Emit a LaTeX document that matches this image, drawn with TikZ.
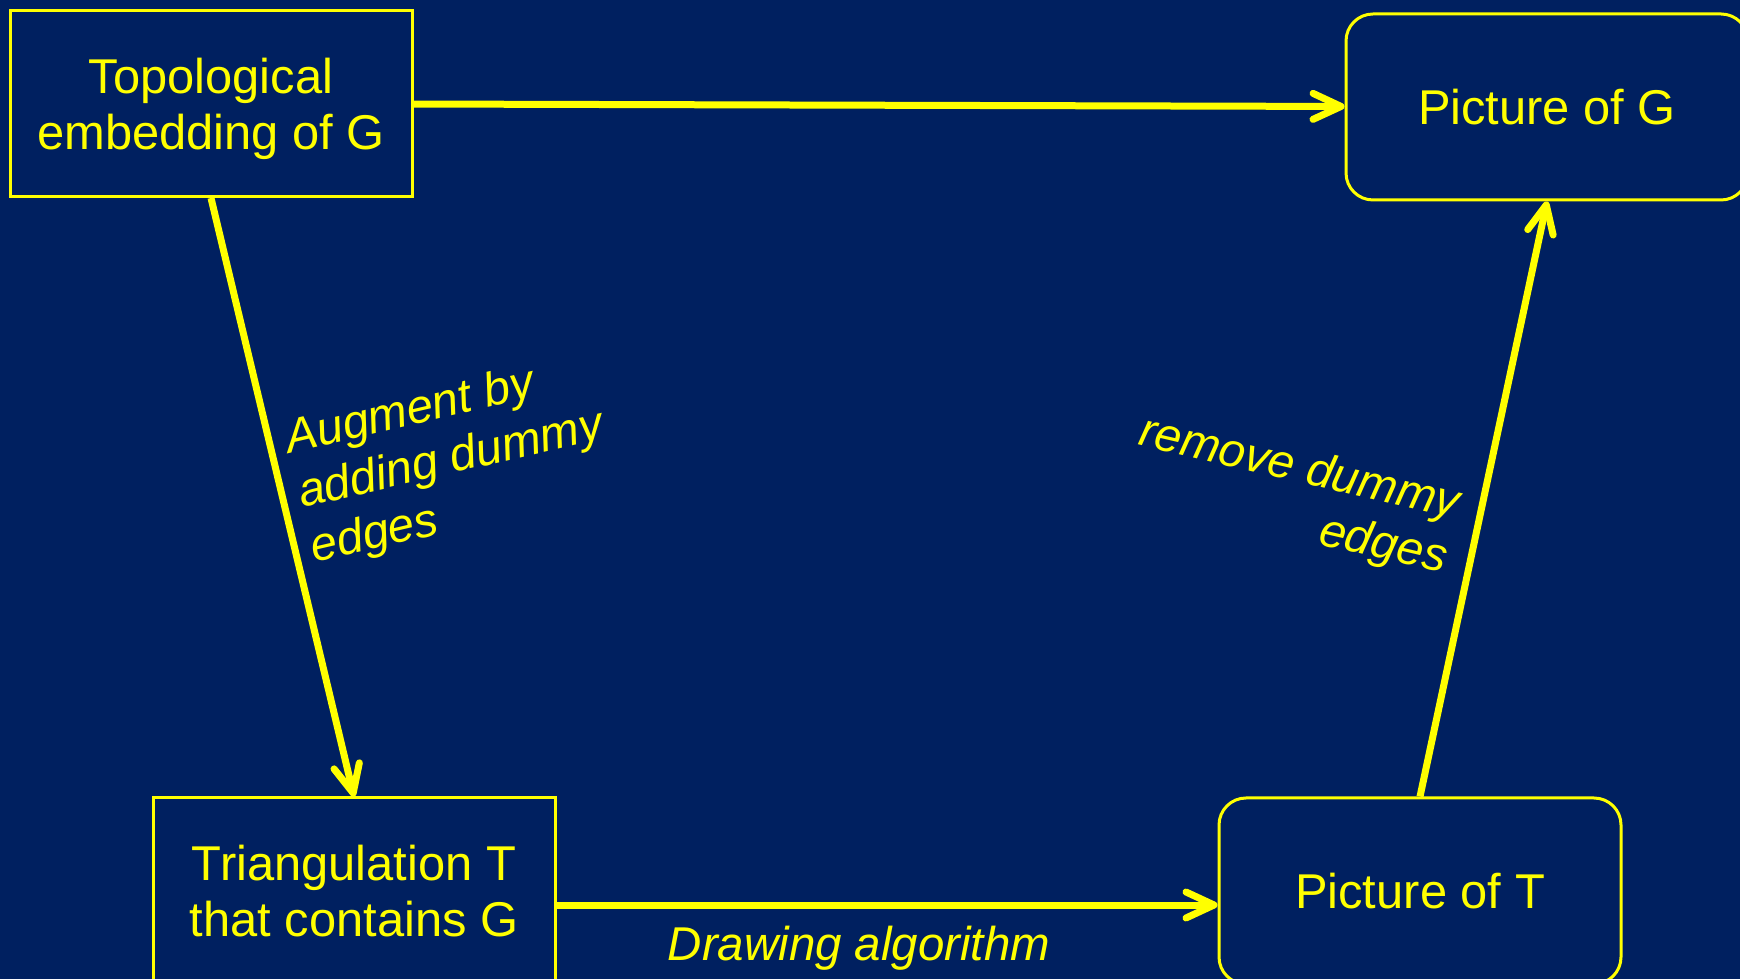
\documentclass[tikz,border=0pt]{standalone}
\usepackage{fontspec}
\setmainfont{Liberation Sans}
\usetikzlibrary{arrows.meta}
\definecolor{slidebg}{RGB}{0,32,96}
\definecolor{slideyellow}{RGB}{255,255,0}

\begin{document}
\begin{tikzpicture}[x=0.1mm,y=-0.1mm]
      \tikzset{
        every node/.style={text=slideyellow,font=\fontsize{13.9}{16}\selectfont,align=center},
        box/.style={draw=slideyellow,line width=0.3mm,fill=slidebg,minimum width=40.2mm,minimum height=18.6mm,inner sep=0pt},
        rbox/.style={box,rounded corners=2.7mm},
        lbl/.style={font=\fontsize{13.5}{16}\selectfont\itshape},
        flow/.style={draw=slideyellow,line width=0.7mm,-{Straight Barb[length=2.8mm,width=2.6mm,line cap=round,line join=round]}}
      }

      \clip (0,0) rectangle (1740,979);
      \fill[slidebg] (0,0) rectangle (1740,979);

      \node[box,text depth=0pt] (topo) at (211,103.5) {Topological\\embedding of G};
      \node[rbox] (picG) at (1547,107) {Picture of G};
      \node[box] (tri) at (354,891) {Triangulation T\\that contains G};
      \node[rbox] (picT) at (1420,891) {Picture of T};

      \node[lbl,rotate=13,align=left] (augm) at (451,461) {Augment by\\adding dummy\\edges};
      \node[lbl,rotate=-13,align=right] (remv) at (1293,497) {remove dummy\\edges};
      \node[lbl] (drawalg) at (859,948.5) {Drawing algorithm};

      \path (topo) edge[flow] (picG)
            (topo.south) edge[flow] (tri.north)
            ([yshift=-1.4mm]tri.east) edge[flow] ([yshift=-1.4mm]picT.west)
            (picT.north) edge[flow] (picG.south);
    \end{tikzpicture}
\end{document}
